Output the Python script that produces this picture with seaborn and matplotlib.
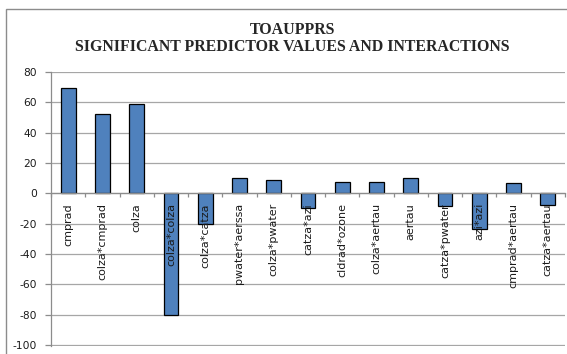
import matplotlib
matplotlib.use("Agg")
import matplotlib.pyplot as plt
import numpy as np
import pandas as pd
import seaborn as sns
from matplotlib.patches import Rectangle

# Predictor terms and their effect values
terms = ["cmprad", "colza*cmprad", "colza", "colza*colza", "colza*catza",
         "pwater*aerssa", "colza*pwater", "catza*azi", "cldrad*ozone",
         "colza*aertau", "aertau", "catza*pwater", "azi*azi",
         "cmprad*aertau", "catza*aertau"]
values = [69.6, 52.0, 58.6, -80.4, -20.3, 10.0, 8.8, -9.6, 7.4, 7.4,
          10.0, -8.3, -23.3, 6.9, -7.6]
y_ticks = [80, 60, 40, 20, 0, -20, -40, -60, -80, -100]
title_lines = ["TOAUPPRS", "SIGNIFICANT PREDICTOR VALUES AND INTERACTIONS"]

df = pd.DataFrame({"term": terms, "value": values})

sns.set_theme(style="white")
plt.rcParams["font.family"] = ["DejaVu Sans"]

W, H = 567, 354
fig = plt.figure(figsize=(W / 100, H / 100), dpi=100)
ax = fig.add_axes([51 / W, 1 - 345.5 / H, (565 - 51) / W, (345.5 - 72) / H])

sns.barplot(data=df, x="term", y="value", color="#4f81bd", saturation=1,
            width=0.43, edgecolor="black", linewidth=0.9, ax=ax)

ax.set_ylim(-100.3, 80)
ax.set_xlim(-0.5, len(terms) - 0.5)
ax.set_yticks(y_ticks)
ax.set_yticklabels([str(v) for v in y_ticks], fontsize=7.7, color="#1a1a1a")
ax.yaxis.grid(True, color="#a6a6a6", linewidth=0.9)
ax.set_axisbelow(True)
# category labels sit on top of the bars, gridlines stay behind them
ax.xaxis.set_zorder(3)
ax.set_xlabel("")
ax.set_ylabel("")

for side in ("top", "right"):
    ax.spines[side].set_visible(False)
ax.spines["left"].set_color("#8c8c8c")
ax.spines["left"].set_linewidth(0.9)
ax.spines["bottom"].set_position(("data", 0))
ax.spines["bottom"].set_color("#8c8c8c")
ax.spines["bottom"].set_linewidth(0.9)

ax.tick_params(axis="y", which="major", left=True, length=4, width=0.9,
               color="#8c8c8c", pad=6)
ax.set_xticks(np.arange(len(terms)))
ax.set_xticklabels(terms, rotation=90, fontsize=8, color="#1a1a1a",
                   va="top", ha="center")
ax.tick_params(axis="x", which="major", length=0, pad=7)
ax.set_xticks(np.arange(len(terms) + 1) - 0.5, minor=True)
ax.tick_params(axis="x", which="minor", bottom=True, length=3, width=0.9,
               color="#8c8c8c", direction="out")

fig.text(292 / W, 1 - 30 / H, title_lines[0], ha="center", va="center",
         fontsize=11.4, fontweight="bold", family="Liberation Serif")
fig.text(292 / W, 1 - 47 / H, title_lines[1], ha="center", va="center",
         fontsize=11.4, fontweight="bold", family="Liberation Serif")

# chart-area frame
fig.patches.append(Rectangle((5.5 / W, -0.1), 1.2, 1 - 8.5 / H + 0.1,
                             transform=fig.transFigure, fill=False,
                             edgecolor="#8c8c8c", linewidth=1.0))

fig.savefig("out.png", dpi=100)
